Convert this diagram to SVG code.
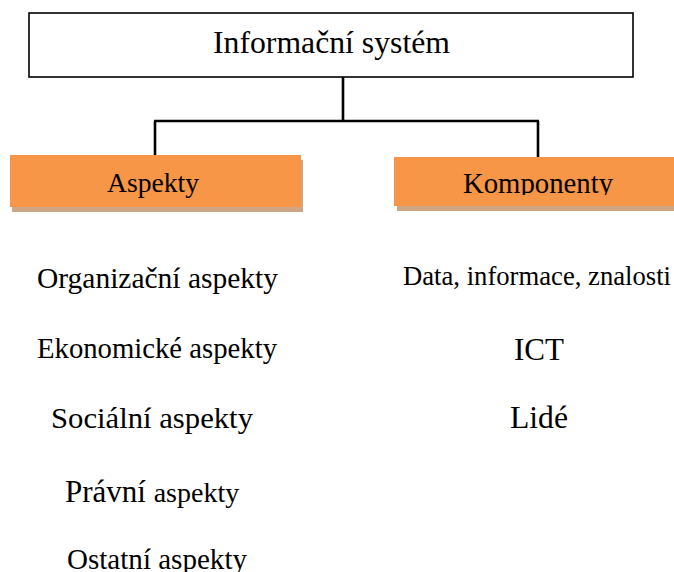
<svg xmlns="http://www.w3.org/2000/svg" width="674" height="572" viewBox="0 0 674 572">
  <defs>
    <style>
      text { font-family: 'Liberation Serif', Tinos, 'Noto Serif', 'DejaVu Serif', 'Nimbus Roman', FreeSerif, 'Times New Roman', Times, serif; fill: #000; }
      .box { fill: #fff; stroke: #000; stroke-width: 1.6; }
      .cat { fill: #F79646; }
      .shadow { fill: #CFA583; }
      .wire { fill: none; stroke: #000; stroke-width: 2.6; }
    </style>
    <clipPath id="kompClip">
      <rect x="394" y="157" width="280" height="38"/>
    </clipPath>
  </defs>
  <rect width="674" height="572" fill="#fff"/>

  <!-- connectors -->
  <g id="connectors">
    <path class="wire" d="M343 77 V121"/>
    <path class="wire" d="M154 121 H539"/>
    <path class="wire" d="M155 121 V155"/>
    <path class="wire" d="M538 121 V157"/>
  </g>

  <!-- root node -->
  <g id="node-system">
    <rect class="box" x="29" y="13" width="604" height="64"/>
    <text x="213" y="53" font-size="32" textLength="237" lengthAdjust="spacingAndGlyphs">Informační systém</text>
  </g>

  <!-- category headers -->
  <g id="node-aspekty">
    <rect class="shadow" x="12" y="160" width="291" height="52"/>
    <rect class="cat" x="10" y="155" width="291" height="52"/>
    <text x="107" y="192" font-size="28" textLength="92" lengthAdjust="spacingAndGlyphs">Aspekty</text>
  </g>
  <g id="node-komponenty">
    <rect class="shadow" x="397" y="162" width="277" height="49"/>
    <rect class="cat" x="394" y="157" width="280" height="49"/>
    <text x="463" y="193" font-size="28.5" textLength="150" lengthAdjust="spacingAndGlyphs" clip-path="url(#kompClip)">Komponenty</text>
  </g>

  <!-- aspects list -->
  <g id="node-organizacni">
    <text x="37" y="288" font-size="29.5" textLength="241" lengthAdjust="spacingAndGlyphs">Organizační aspekty</text>
  </g>
  <g id="node-ekonomicke">
    <text x="37" y="358" font-size="29" textLength="240" lengthAdjust="spacingAndGlyphs">Ekonomické aspekty</text>
  </g>
  <g id="node-socialni">
    <text x="51" y="428" font-size="30" textLength="202" lengthAdjust="spacingAndGlyphs">Sociální aspekty</text>
  </g>
  <g id="node-pravni">
    <text x="65" y="502" font-size="31">Právní <tspan font-size="28">aspekty</tspan></text>
  </g>
  <g id="node-ostatni">
    <text x="67" y="569" font-size="29" textLength="180" lengthAdjust="spacingAndGlyphs">Ostatní aspekty</text>
  </g>

  <!-- components list -->
  <g id="node-data">
    <text x="403" y="285" font-size="26.7" textLength="268" lengthAdjust="spacingAndGlyphs">Data, informace, znalosti</text>
  </g>
  <g id="node-ict">
    <text x="514" y="360" font-size="30.5" textLength="50" lengthAdjust="spacingAndGlyphs">ICT</text>
  </g>
  <g id="node-lide">
    <text x="510" y="428" font-size="31" textLength="58" lengthAdjust="spacingAndGlyphs">Lidé</text>
  </g>
</svg>
